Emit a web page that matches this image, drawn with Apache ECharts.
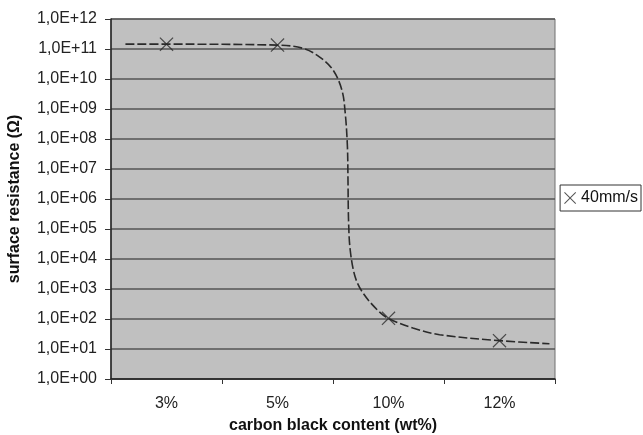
<!DOCTYPE html>
<html>
<head>
<meta charset="utf-8">
<script src="https://cdn.jsdelivr.net/npm/echarts@6/dist/echarts.min.js"></script>
<style>
html,body{margin:0;padding:0;background:#fff;}
#chart{width:643px;height:435px;}
</style>
</head>
<body>
<div id="chart"></div>
<script>
// Categories (x axis)
var categories = ['3%', '5%', '10%', '12%'];
// Measured surface resistance (Ohm), series "40mm/s"
var seriesName = '40mm/s';
var resistance = [1.45e11, 1.35e11, 1.05e2, 1.9e1];
// Hand-drawn trend curve: [position across categories (0..4), resistance]
var curveX = [0.13, 0.5, 1.5, 1.73, 1.88, 2.0, 2.08, 2.11, 2.13, 2.135, 2.14, 2.155, 2.2, 2.27, 2.4, 2.5, 2.72, 2.96, 3.5, 3.95];
var curveY = [1.45e11, 1.45e11, 1.35e11, 1.05e11, 5.4e10, 2e10, 4.3e9, 7.4e8, 5.4e7, 4.3e6, 2e5, 2e4, 2.5e3, 7.4e2, 2e2, 1.05e2, 5e1, 3e1, 1.9e1, 1.5e1];
// Y axis range: 1,0E+00 ... 1,0E+12
var yMin = 1, yMax = 1e12;

var curve = curveX.map(function (x, i) { return [x, curveY[i]]; });
var xMarkPath = 'path://M0,0.6L0.6,0L5,4.4L9.4,0L10,0.6L5.6,5L10,9.4L9.4,10L5,5.6L0.6,10L0,9.4L4.4,5Z';
var font = 'Liberation Sans, Arial, sans-serif';

var chart = echarts.init(document.getElementById('chart'), null, {renderer: 'canvas'});
chart.setOption({
  animation: false,
  backgroundColor: '#ffffff',
  grid: {
    left: 111, right: 88, top: 19, bottom: 56,
    containLabel: false, outerBoundsMode: 'none',
    show: true, backgroundColor: '#c0c0c0', borderColor: '#707070', borderWidth: 1
  },
  legend: {
    data: [seriesName],
    right: 2, top: 185,
    orient: 'vertical',
    backgroundColor: '#ffffff',
    borderColor: '#333333', borderWidth: 1,
    padding: [5, 3, 5, 4],
    itemWidth: 12, itemHeight: 12, itemGap: 4,
    icon: xMarkPath,
    textStyle: {fontFamily: font, fontSize: 16, color: '#111'}
  },
  xAxis: [{
    type: 'category',
    data: categories,
    boundaryGap: true,
    name: 'carbon black content (wt%)',
    nameLocation: 'middle', nameGap: 39,
    nameTextStyle: {fontFamily: font, fontSize: 16, fontWeight: 'bold', color: '#111'},
    axisLine: {show: true, lineStyle: {color: '#222', width: 1.5}},
    axisTick: {show: true, alignWithLabel: false, length: 5, lineStyle: {color: '#333'}},
    axisLabel: {fontFamily: font, fontSize: 16, color: '#222', margin: 17},
    splitLine: {show: false}
  }, {
    type: 'value', min: 0, max: 4, show: false
  }],
  yAxis: {
    type: 'log', logBase: 10, min: yMin, max: yMax, interval: 1,
    name: 'surface resistance (Ω)',
    nameLocation: 'middle', nameGap: 88, nameRotate: 90,
    nameTextStyle: {fontFamily: font, fontSize: 16, fontWeight: 'bold', color: '#111'},
    axisLine: {show: true, lineStyle: {color: '#222', width: 1.5}},
    axisTick: {show: true, length: 6, inside: false, lineStyle: {color: '#333'}},
    axisLabel: {
      fontFamily: font, fontSize: 16, color: '#222', margin: 14,
      formatter: function (v) {
        var e = Math.round(Math.log10(v));
        return '1,0E+' + (e < 10 ? '0' : '') + e;
      }
    },
    splitLine: {show: true, lineStyle: {color: '#555555', width: 1.5}}
  },
  series: [{
    name: 'curve',
    type: 'line',
    xAxisIndex: 1,
    data: curve,
    smooth: 0.35,
    showSymbol: false,
    silent: true,
    lineStyle: {color: '#2a2a2a', width: 1.6, type: [9, 3]},
    z: 2
  }, {
    name: seriesName,
    type: 'scatter',
    xAxisIndex: 0,
    data: resistance,
    symbol: xMarkPath,
    symbolSize: 14,
    itemStyle: {color: '#2a2a2a'},
    z: 3
  }]
});
</script>
</body>
</html>
